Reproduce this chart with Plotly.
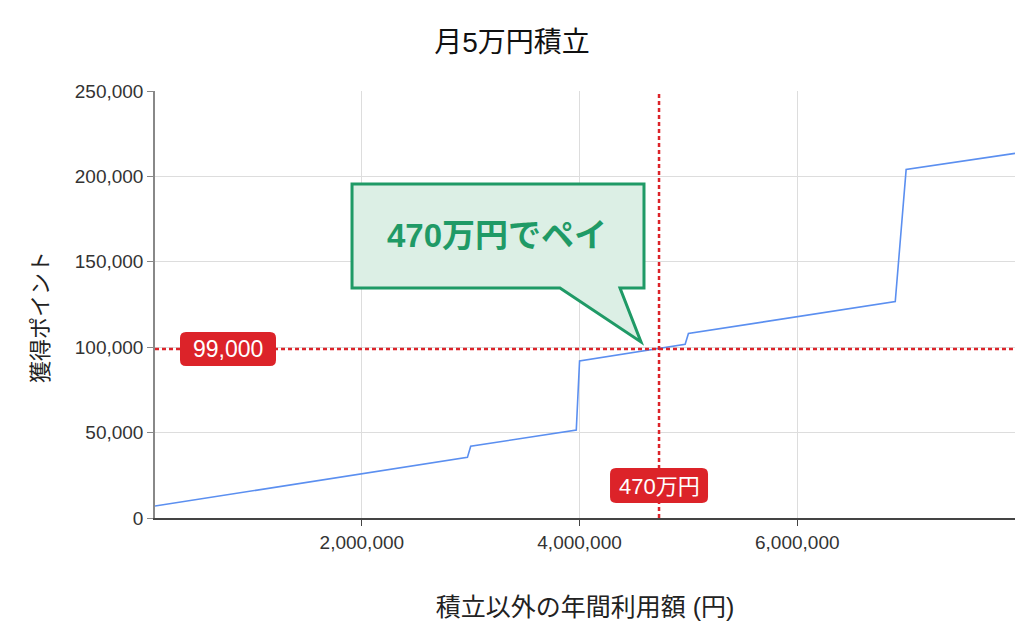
import plotly.graph_objects as go

# 積立以外の年間利用額 (円) と 獲得ポイント
usage = [100000, 2970000, 3000000, 3970000, 4000000, 4970000, 5000000, 6900000, 7000000, 8000000]
points = [7000, 35500, 42000, 51500, 92000, 101700, 108000, 126700, 204000, 213500]

pay_usage = 4730000
pay_points = 99000
pay_label_x = "470万円"
pay_label_y = "99,000"
callout_text = "470万円でペイ"

x_ticks = [2000000, 4000000, 6000000]
y_ticks = [0, 50000, 100000, 150000, 200000, 250000]

font_family = "Liberation Sans, Arial, Noto Sans CJK JP, sans-serif"
red = "#dc2329"
green = "#1f9a66"

# plot area on screen (page body has an 8px margin)
PL, PR, PT, PB = 155, 1015, 91, 518


def px_to_paper(px, py):
    return (px - PL) / (PR - PL), (PB - py) / (PB - PT)


def y_to_px(v):
    return PB - v / y_ticks[-1] * (PB - PT)


def x_to_px(v):
    return PL + (v - usage[0]) / (usage[-1] - usage[0]) * (PR - PL)


def rounded_rect(x0, y0, x1, y1, r):
    def p(a, b):
        return "{:.5f},{:.5f}".format(*px_to_paper(a, b))
    return ("M " + p(x0 + r, y0) + " L " + p(x1 - r, y0) + " Q " + p(x1, y0) + " " + p(x1, y0 + r)
            + " L " + p(x1, y1 - r) + " Q " + p(x1, y1) + " " + p(x1 - r, y1)
            + " L " + p(x0 + r, y1) + " Q " + p(x0, y1) + " " + p(x0, y1 - r)
            + " L " + p(x0, y0 + r) + " Q " + p(x0, y0) + " " + p(x0 + r, y0) + " Z")


fig = go.Figure()

fig.add_trace(go.Scatter(
    x=usage, y=points, mode="lines",
    line=dict(color="#5b8ff0", width=1.6),
    hoverinfo="skip", showlegend=False,
))

# dotted guide lines
fig.add_hline(y=pay_points, line=dict(color=red, width=2.5, dash="4px,3px"))
fig.add_vline(x=pay_usage, line=dict(color=red, width=2.5, dash="4px,3px"))

# callout bubble
pts = [(352, 184), (644, 184), (644, 288), (620, 288), (641, 342), (560, 288), (352, 288)]
path = "M " + " L ".join("{:.4f},{:.4f}".format(*px_to_paper(a, b)) for a, b in pts) + " Z"
fig.add_shape(type="path", path=path, xref="paper", yref="paper",
              fillcolor="#dcefe5", line=dict(color=green, width=3))

cx, cy = px_to_paper(497, 235)
fig.add_annotation(x=cx, y=cy, xref="paper", yref="paper", text="<b>" + callout_text + "</b>",
                   xanchor="center", yanchor="middle",
                   showarrow=False, font=dict(size=33, color=green, family=font_family))

# red value labels with rounded boxes
ly = y_to_px(pay_points)
fig.add_shape(type="path", path=rounded_rect(180, ly - 17, 276, ly + 17, 6),
              xref="paper", yref="paper", fillcolor=red, line=dict(width=0))
lx, _ = px_to_paper(228, 0)
fig.add_annotation(x=lx, y=pay_points, xref="paper", yref="y", text=pay_label_y,
                   xanchor="center", yanchor="middle",
                   showarrow=False, font=dict(size=23, color="white", family=font_family))

vx = x_to_px(pay_usage)
fig.add_shape(type="path", path=rounded_rect(vx - 49, 468, vx + 49, 503, 6),
              xref="paper", yref="paper", fillcolor=red, line=dict(width=0))
_, vy = px_to_paper(0, 486)
fig.add_annotation(x=pay_usage, y=vy, xref="x", yref="paper", text=pay_label_x,
                   xanchor="center", yanchor="middle",
                   showarrow=False, font=dict(size=22, color="white", family=font_family))

# y axis title as a rotated annotation (sits a bit below the plot centre)
tx, ty = px_to_paper(40, 317)
fig.add_annotation(x=tx, y=ty, xref="paper", yref="paper", text="獲得ポイント",
                   textangle=-90, xanchor="center", yanchor="middle", showarrow=False,
                   font=dict(size=22, color="#222", family=font_family))

fig.update_layout(
    width=1024, height=633,
    margin=dict(l=PL - 8, r=1024 - (PR - 8), t=PT - 8, b=633 - (PB - 8)),
    plot_bgcolor="white", paper_bgcolor="white",
    font=dict(family=font_family, color="#222"),
    title=dict(text="月5万円積立", x=(512 - 8) / 1024, xanchor="center",
               y=1 - (42 - 8) / 633, yanchor="middle",
               font=dict(size=28, color="#111")),
)

fig.update_xaxes(
    range=[usage[0], usage[-1]],
    tickvals=x_ticks, ticktext=["{:,}".format(v) for v in x_ticks],
    tickfont=dict(size=19, color="#333"),
    showgrid=True, gridcolor="#dddddd",
    showline=True, linecolor="#444", linewidth=1.5,
    ticks="outside", ticklen=6, tickcolor="#444",
    zeroline=False,
    title=dict(text="積立以外の年間利用額 (円)", font=dict(size=25, color="#222"), standoff=47),
)
fig.update_yaxes(
    range=[0, 250000],
    tickvals=y_ticks, ticktext=["{:,}".format(v) for v in y_ticks],
    tickfont=dict(size=19, color="#333"),
    showgrid=True, gridcolor="#dddddd",
    showline=True, linecolor="#888", linewidth=1.5,
    ticks="outside", ticklen=6, tickcolor="#888",
    zeroline=False,
)

fig.write_html("out.html")
